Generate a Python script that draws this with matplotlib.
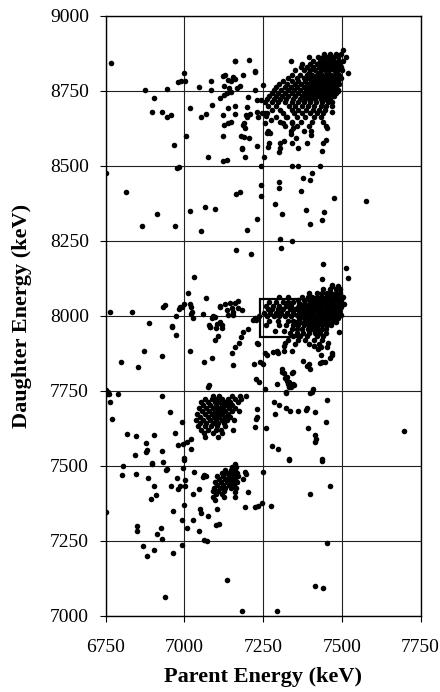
import matplotlib
matplotlib.use('Agg')
import matplotlib.pyplot as plt
from matplotlib.patches import Rectangle

plt.rcParams['font.family'] = ['Liberation Serif', 'DejaVu Serif']

# (parent keV, daughter keV) pairs, isolated points
top_sparse = [
    (6767, 8843), (6751, 8478), (6813, 8413), (6874, 8754), (6902, 8726), (6897, 8679),
    (6930, 8679), (6946, 8664), (6956, 8669), (6946, 8757), (6966, 8569), (6975, 8494),
    (6982, 8495), (6980, 8780), (6990, 8782), (7000, 8810), (7003, 8784), (7018, 8693),
    (7006, 8600), (6912, 8338), (6866, 8301), (6969, 8299), (7018, 8350), (7066, 8362),
    (7097, 8355), (7045, 8763), (7054, 8664), (7067, 8674), (7083, 8783), (7083, 8754),
    (7089, 8704), (7075, 8530), (7121, 8799), (7130, 8802), (7126, 8766), (7121, 8669),
    (7125, 8637), (7123, 8600), (7134, 8520), (7123, 8517), (7139, 8642), (7147, 8647),
    (7139, 8694), (7160, 8673), (7160, 8701), (7113, 8725), (7125, 8736), (7134, 8742),
    (7147, 8748), (7139, 8787), (7147, 8783), (7153, 8796), (7160, 8789), (7140, 8761),
    (7166, 8759), (7176, 8767), (7162, 8851), (7205, 8854), (7185, 8802), (7225, 8816),
    (7198, 8697), (7203, 8729), (7196, 8670), (7207, 8673), (7188, 8642), (7193, 8626),
    (7186, 8636), (7178, 8600), (7189, 8597), (7205, 8592), (7184, 8559), (7192, 8531),
    (7183, 8555), (7230, 8566), (7242, 8501), (7225, 8754), (7231, 8721), (7242, 8721),
    (7247, 8676), (7250, 8771), (7256, 8677), (7258, 8668), (7257, 8644), (7231, 8681),
    (7234, 8664), (7254, 8531), (7267, 8578), (7261, 8611), (7224, 8814), (7200, 8662),
    (7163, 8407), (7177, 8412), (7243, 8400), (7244, 8436), (7229, 8323), (7160, 8849),
    (7300, 8547), (7302, 8560), (7303, 8578), (7316, 8582), (7341, 8500), (7360, 8500),
    (7430, 8500), (7375, 8460), (7404, 8475), (7400, 8453), (7369, 8416), (7476, 8392),
    (7576, 8383), (7299, 8445), (7299, 8425), (7286, 8372), (7310, 8338), (7385, 8354),
    (7442, 8345), (7437, 8318), (7399, 8305), (7266, 8562), (7343, 8577), (7354, 8594),
    (7361, 8561), (7388, 8577), (7401, 8603), (7437, 8550), (7440, 8575), (7448, 8586),
    (7451, 8625), (7340, 8642), (7345, 8625), (7338, 8606), (7313, 8642), (7324, 8664),
    (7271, 8609), (7266, 8617), (7274, 8652), (7467, 8681), (7488, 8750),
]

mid_sparse = [
    (7053, 8283), (7198, 8287), (7164, 8220), (7211, 8207), (7304, 8256), (7306, 8225),
    (7342, 8248), (7441, 8174), (7512, 8161), (7518, 8127), (7436, 8122), (7467, 8103),
    (7030, 8130), (7012, 8075), (7067, 8060), (6764, 8014), (6833, 8014), (6886, 7977),
    (6933, 8030), (6938, 8036), (6960, 7967), (6972, 7936), (6973, 8000), (6961, 7962),
    (6987, 8031), (6998, 8039), (7019, 8041), (7024, 8014), (7026, 7992), (7021, 8030),
    (7021, 8006), (6991, 8030), (6983, 8022), (7059, 8005), (7092, 8000), (7089, 7994),
    (7078, 7969), (7082, 7964), (7103, 7973), (7114, 7980), (7100, 7960), (7097, 7921),
    (7108, 7932), (7097, 7995), (7113, 8028), (7114, 8034), (7128, 8039), (7144, 8042),
    (7160, 8044), (7169, 8049), (7134, 8020), (7150, 8027), (7155, 8014), (7171, 8025),
    (7184, 8020), (7137, 8003), (7155, 8003), (7081, 7964), (7120, 7970), (7120, 7958),
    (7018, 7882), (7063, 7845), (7089, 7858), (7153, 7836), (7152, 7877), (7162, 7897),
    (7173, 7908), (7181, 7929), (7185, 7945), (7203, 7956), (7219, 7986), (7224, 7992),
    (7229, 7911), (7232, 7905), (7221, 7839), (7240, 7845), (7250, 7838), (7227, 7789),
    (7238, 7778), (7256, 7755), (7295, 7774), (7310, 7822), (7316, 7809), (7326, 7797),
    (7325, 7783), (7330, 7774), (7344, 7813), (7346, 7771), (7256, 7875), (7280, 7880),
    (7293, 7882), (7317, 7883), (7342, 7883), (7319, 7908), (7377, 7849), (7388, 7833),
    (7396, 7838), (7400, 7824), (7411, 7900), (7425, 7891), (7432, 7869), (7451, 7897),
    (7467, 7875), (7437, 7847), (7462, 7858), (7492, 7945), (7399, 7744), (7409, 7757),
    (6798, 7847), (6852, 7830), (6873, 7882), (6930, 7867), (7079, 7769), (7076, 7763),
    (7310, 7814), (7340, 7808), (7319, 7792), (7332, 7778), (7338, 7764), (7324, 7744),
    (7261, 7870), (7298, 7877), (7316, 7900), (7456, 7911), (7470, 7870), (7435, 7897),
    (7446, 7847), (7430, 7842), (7238, 7998), (7226, 7986),
]

low_sparse = [
    (6752, 7752), (6756, 7745), (6761, 7738), (6753, 7740), (6764, 7713), (6770, 7655),
    (6790, 7738), (6819, 7605), (6846, 7598), (6843, 7535), (6880, 7552), (6878, 7577),
    (6902, 7604), (6930, 7732), (6953, 7680), (6930, 7549), (6971, 7609), (6991, 7646),
    (6980, 7568), (6994, 7574), (7007, 7579), (7022, 7555), (6999, 7526), (7020, 7590),
    (6877, 7545), (6896, 7508), (6943, 7486), (7229, 7690), (7229, 7662), (7454, 7719),
    (7448, 7646), (7415, 7602), (7415, 7579), (7418, 7588), (7391, 7627), (7390, 7691),
    (7415, 7680), (7359, 7682), (7387, 7685), (7322, 7693), (7335, 7682), (7283, 7713),
    (7301, 7702), (7289, 7674), (7322, 7746), (7333, 7763), (7349, 7769), (7228, 7657),
    (7225, 7628), (7258, 7627), (7277, 7566), (7296, 7557), (7331, 7524), (7437, 7524),
    (7696, 7616), (7404, 7747),
]

bottom_sparse = [
    (6751, 7346), (6803, 7470), (6806, 7498), (6846, 7471), (6883, 7458), (6897, 7507),
    (6933, 7511), (6902, 7433), (6910, 7402), (6894, 7388), (6944, 7489), (6956, 7433),
    (6975, 7458), (6980, 7422), (6986, 7433), (6965, 7349), (6994, 7491), (6999, 7520),
    (7002, 7453), (7002, 7433), (6999, 7369), (6991, 7318), (7007, 7293), (7026, 7319),
    (7028, 7407), (7031, 7478), (7047, 7424), (7058, 7461), (7063, 7469), (7067, 7466),
    (7049, 7355), (7054, 7343), (7047, 7282), (7076, 7332), (7063, 7254), (7071, 7248),
    (7100, 7301), (7103, 7355), (7110, 7307), (6848, 7299), (6848, 7282), (6867, 7234),
    (6903, 7218), (6880, 7198), (6912, 7274), (6927, 7293), (6930, 7257), (6965, 7209),
    (6991, 7235), (6938, 7062), (7135, 7118), (7183, 7015), (7295, 7016), (7399, 7406),
    (7462, 7431), (7454, 7241), (7414, 7098), (7439, 7092), (7333, 7520), (7436, 7517),
    (7224, 7362), (7232, 7366), (7247, 7375), (7274, 7366), (7248, 7478), (7201, 7413),
    (7192, 7362), (7192, 7480), (7195, 7472), (7160, 7413), (7160, 7397), (7186, 7455),
]

# dense groups: (daughter keV, [parent keV, ...]) rows
upper_cluster = [
    (8886, [7504]),
    (8874, [7443, 7462, 7480, 7498]),
    (8862, [7396, 7424, 7440, 7456, 7472, 7488, 7512]),
    (8850, [7338, 7409, 7430, 7446, 7462, 7476, 7490, 7502]),
    (8840, [7372, 7398, 7420, 7436, 7450, 7464, 7478, 7492]),
    (8830, [7370, 7388, 7408, 7426, 7440, 7454, 7468, 7482, 7496]),
    (8820, [7352, 7380, 7400, 7416, 7432, 7446, 7460, 7474, 7488, 7500]),
    (8811, [7395, 7424, 7452, 7481, 7520]),
    (8802, [7342, 7366, 7390, 7406, 7422, 7436, 7450, 7464, 7478, 7492]),
    (8792, [7330, 7356, 7378, 7396, 7412, 7428, 7442, 7456, 7470, 7484, 7496]),
    (8782, [7314, 7342, 7362, 7384, 7402, 7418, 7432, 7446, 7460, 7474, 7488]),
    (8772, [7300, 7326, 7350, 7370, 7390, 7406, 7420, 7436, 7450, 7464, 7478, 7492]),
    (8762, [7292, 7318, 7338, 7358, 7378, 7396, 7412, 7426, 7440, 7454, 7468, 7482]),
    (8752, [7284, 7306, 7330, 7348, 7366, 7386, 7402, 7418, 7432, 7446, 7460, 7474, 7488]),
    (8742, [7278, 7298, 7318, 7340, 7360, 7378, 7394, 7410, 7426, 7440, 7454, 7468, 7482]),
    (8732, [7270, 7290, 7310, 7330, 7352, 7372, 7388, 7404, 7420, 7434, 7448, 7462, 7476]),
    (8722, [7262, 7284, 7302, 7324, 7346, 7366, 7384, 7400, 7416, 7432, 7446, 7462]),
    (8712, [7256, 7278, 7298, 7320, 7342, 7362, 7380, 7398, 7418, 7438, 7456, 7470]),
    (8700, [7266, 7292, 7332, 7352, 7372, 7392, 7412, 7432, 7450, 7467]),
    (8688, [7278, 7304, 7342, 7362, 7386, 7408, 7428, 7446]),
    (8676, [7262, 7314, 7348, 7374, 7400, 7422, 7440]),
    (8662, [7290, 7326, 7356, 7384, 7412, 7434]),
    (8648, [7302, 7342, 7370, 7406, 7440]),
    (8632, [7318, 7356, 7394, 7450]),
    (8616, [7338, 7380, 7402]),
]

middle_cluster = [
    (8100, [7470, 7488]),
    (8088, [7440, 7462, 7480, 7495]),
    (8076, [7395, 7420, 7438, 7452, 7466, 7480, 7494]),
    (8064, [7300, 7330, 7374, 7392, 7406, 7420, 7434, 7448, 7460, 7474, 7488, 7502]),
    (8052, [7362, 7380, 7394, 7408, 7420, 7434, 7446, 7458, 7470, 7484, 7498]),
    (8046, [7270, 7290, 7312, 7330, 7344]),
    (8040, [7368, 7384, 7398, 7410, 7424, 7436, 7448, 7462, 7476, 7490, 7506]),
    (8034, [7258, 7282, 7300, 7322, 7338]),
    (8028, [7360, 7372, 7388, 7402, 7416, 7428, 7442, 7456, 7470, 7484, 7498]),
    (8022, [7266, 7278, 7296, 7314, 7334, 7350]),
    (8016, [7366, 7380, 7394, 7406, 7420, 7434, 7448, 7462, 7476, 7490]),
    (8010, [7252, 7272, 7290, 7306, 7326, 7344]),
    (8004, [7358, 7372, 7386, 7398, 7412, 7426, 7440, 7454, 7468, 7482, 7496]),
    (7998, [7262, 7284, 7300, 7318, 7338]),
    (7992, [7364, 7378, 7392, 7404, 7418, 7432, 7446, 7460, 7474, 7488]),
    (7984, [7270, 7296, 7330, 7346]),
    (7980, [7350, 7368, 7384, 7398, 7412, 7426, 7440, 7454, 7468, 7480]),
    (7968, [7258, 7300, 7324, 7346, 7362, 7378, 7394, 7410, 7424, 7438, 7452, 7466]),
    (7956, [7340, 7358, 7374, 7392, 7406, 7420, 7436, 7450]),
    (7950, [7288, 7316]),
    (7944, [7336, 7356, 7376, 7396, 7414, 7430, 7448]),
    (7932, [7344, 7368, 7390, 7420, 7440]),
    (7920, [7330, 7362, 7384, 7412, 7436]),
    (7905, [7350, 7396, 7428]),
]

cluster_7100 = [
    (7732, [7092, 7110, 7150, 7176, 7195]),
    (7722, [7066, 7086, 7104, 7120, 7138, 7160, 7180]),
    (7712, [7052, 7074, 7096, 7112, 7128, 7146, 7170]),
    (7702, [7060, 7082, 7100, 7118, 7134, 7152]),
    (7692, [7046, 7070, 7090, 7108, 7124, 7140, 7160]),
    (7682, [7056, 7078, 7096, 7112, 7130, 7150, 7172]),
    (7672, [7040, 7064, 7086, 7104, 7120, 7138]),
    (7662, [7050, 7074, 7094, 7110, 7128, 7146]),
    (7652, [7036, 7060, 7082, 7100, 7118, 7136, 7156]),
    (7642, [7048, 7070, 7090, 7108, 7126]),
    (7632, [7042, 7064, 7084, 7104, 7130]),
    (7620, [7054, 7076, 7100, 7116, 7155]),
    (7608, [7062, 7090, 7120]),
    (7596, [7066, 7106]),
]

cluster_7150 = [
    (7505, [7160]),
    (7495, [7150, 7165]),
    (7485, [7130, 7148, 7162]),
    (7475, [7118, 7136, 7152, 7166]),
    (7465, [7104, 7122, 7140, 7156, 7170]),
    (7455, [7110, 7128, 7144, 7160]),
    (7445, [7096, 7116, 7134, 7150, 7166]),
    (7435, [7104, 7122, 7140, 7158]),
    (7425, [7094, 7112, 7130, 7148, 7164]),
    (7415, [7090, 7108, 7126]),
    (7405, [7100, 7118]),
    (7395, [7092, 7126]),
    (7385, [7098]),
]

ticks = [6750, 7000, 7250, 7500, 7750]
yticks = [7000, 7250, 7500, 7750, 8000, 8250, 8500, 8750, 9000]

parent, daughter = [], []
for grp in (top_sparse, mid_sparse, low_sparse, bottom_sparse):
    for p, d in grp:
        parent.append(p)
        daughter.append(d)
for grp in (upper_cluster, middle_cluster, cluster_7100, cluster_7150):
    for d, ps in grp:
        parent += ps
        daughter += [d] * len(ps)

fig = plt.figure(figsize=(4.4, 6.92), dpi=100)
ax = fig.add_axes([0.2402, 0.1103, 0.7159, 0.8666])

ax.scatter(parent, daughter, s=16, c='black', linewidths=0, zorder=3)

# selection box
ax.add_patch(Rectangle((7240, 7930), 120, 127, fill=False, ec='black', lw=1.6, zorder=4))

ax.set_xlim(6750, 7750)
ax.set_ylim(7000, 9000)
ax.set_xticks(ticks)
ax.set_yticks(yticks)
ax.grid(True, color='#222222', linewidth=0.8)
ax.set_axisbelow(True)
for s in ax.spines.values():
    s.set_linewidth(1.0)

ax.tick_params(axis='both', direction='out', length=4, width=0.8, labelsize=14)
ax.tick_params(axis='y', pad=8)
ax.tick_params(axis='x', pad=13)

ax.set_xlabel('Parent Energy (keV)', fontsize=16, fontweight='bold')
ax.set_ylabel('Daughter Energy (keV)', fontsize=16, fontweight='bold')
ax.xaxis.set_label_coords(0.5, -0.0855)
ax.yaxis.set_label_coords(-0.235, 0.5)

plt.savefig('out.png', dpi=100)
plt.close()
